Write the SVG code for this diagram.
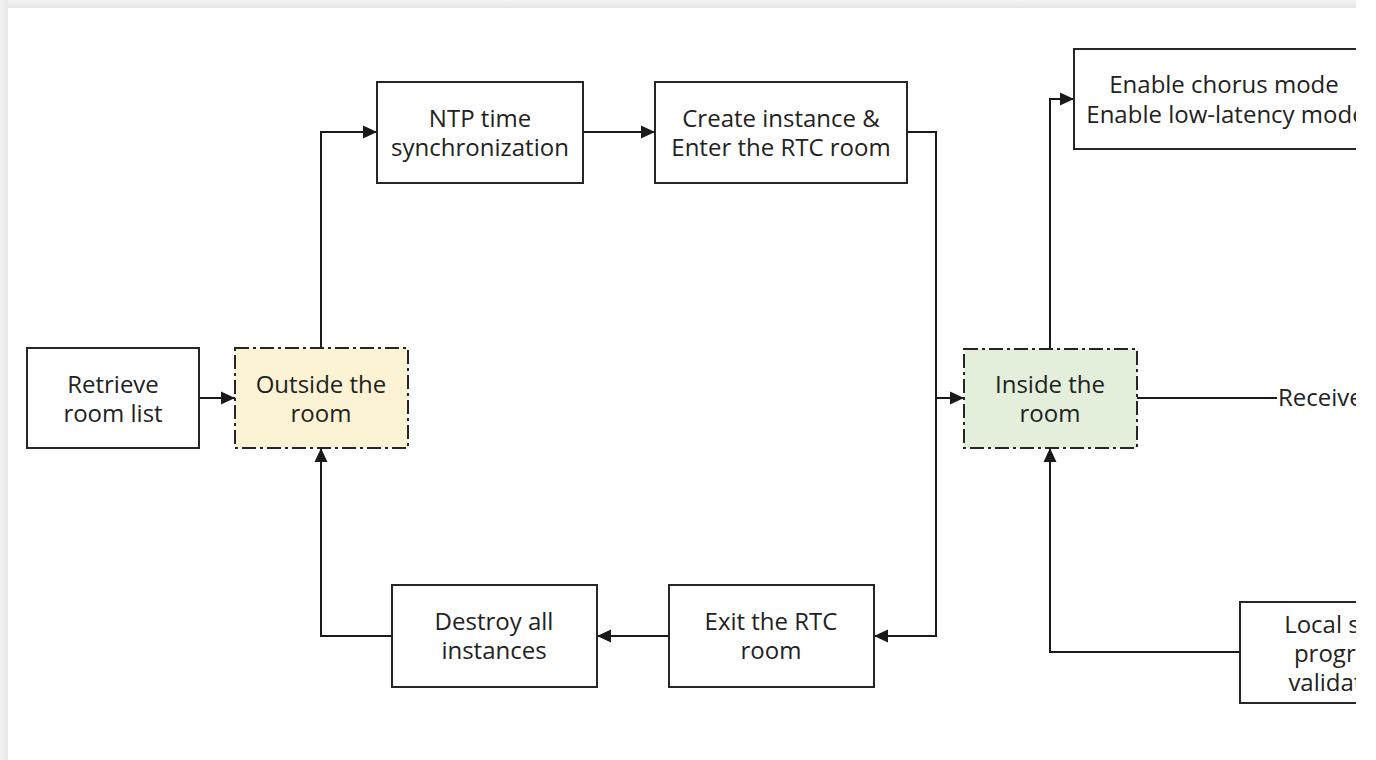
<svg xmlns="http://www.w3.org/2000/svg" width="1376" height="760" viewBox="0 0 1376 760">
<defs>
<linearGradient id="shTop" x1="0" y1="0" x2="0" y2="1"><stop offset="0" stop-color="#f4f4f4"/><stop offset="1" stop-color="#e6e6e6"/></linearGradient>
<linearGradient id="shLeft" x1="0" y1="0" x2="1" y2="0"><stop offset="0" stop-color="#f4f4f4"/><stop offset="1" stop-color="#e6e6e6"/></linearGradient>
<clipPath id="card"><rect x="8" y="8" width="1348" height="752"/></clipPath>
<marker id="arr" markerUnits="userSpaceOnUse" markerWidth="16" markerHeight="14" refX="14" refY="7" orient="auto"><path d="M0,0.5 L14,7 L0,13.5 z" fill="#1a1a1a"/></marker>
</defs>
<style>
.box{fill:#ffffff;stroke:#262626;stroke-width:2}
.state{stroke:#262626;stroke-width:2;stroke-dasharray:14 4 3 4}
.out{fill:#fcf2d4}
.in{fill:#e3eedb}
.t{font-family:"Open Sans","Noto Sans",sans-serif;font-size:24px;fill:#222;text-anchor:middle}
.tl{text-anchor:start}
.c{fill:none;stroke:#1a1a1a;stroke-width:2}
</style>
<rect width="1376" height="760" fill="#ffffff"/>
<rect x="0" y="0" width="1356" height="8" fill="url(#shTop)"/>
<rect x="0" y="0" width="8" height="760" fill="url(#shLeft)"/>
<rect x="8" y="8" width="1348" height="752" fill="#ffffff"/>
<g clip-path="url(#card)">
<g id="connectors">
<path class="c" d="M199,398 H235" marker-end="url(#arr)"/>
<path class="c" d="M321,348 V132 H377" marker-end="url(#arr)"/>
<path class="c" d="M583,132 H655" marker-end="url(#arr)"/>
<path class="c" d="M907,132 H936 V398 H964" marker-end="url(#arr)"/>
<path class="c" d="M936,398 V636 H874" marker-end="url(#arr)"/>
<path class="c" d="M669,636 H597" marker-end="url(#arr)"/>
<path class="c" d="M392,636 H321 V448" marker-end="url(#arr)"/>
<path class="c" d="M1050,349 V99 H1074" marker-end="url(#arr)"/>
<path class="c" d="M1137,398 H1277"/>
<path class="c" d="M1240,652 H1050 V448" marker-end="url(#arr)"/>
</g>
<g id="retrieve"><rect class="box" x="27" y="348" width="172" height="100"/><text class="t"><tspan x="113" y="393">Retrieve</tspan><tspan x="113" y="422">room list</tspan></text></g>
<g id="outside"><rect class="state out" x="235" y="348" width="173" height="100"/><text class="t"><tspan x="321" y="393">Outside the</tspan><tspan x="321" y="422">room</tspan></text></g>
<g id="ntp"><rect class="box" x="377" y="82" width="206" height="101"/><text class="t"><tspan x="480" y="127">NTP time</tspan><tspan x="480" y="156">synchronization</tspan></text></g>
<g id="create"><rect class="box" x="655" y="82" width="252" height="101"/><text class="t"><tspan x="781" y="127">Create instance &amp;</tspan><tspan x="781" y="156">Enter the RTC room</tspan></text></g>
<g id="inside"><rect class="state in" x="964" y="349" width="173" height="99"/><text class="t"><tspan x="1050" y="393">Inside the</tspan><tspan x="1050" y="422">room</tspan></text></g>
<g id="enable"><rect class="box" x="1074" y="49" width="300" height="100"/><text class="t"><tspan x="1224" y="93">Enable chorus mode</tspan><tspan x="1226" y="123">Enable low-latency mode</tspan></text></g>
<g id="receive"><text class="t tl" x="1278" y="406">Receive chorus signaling</text></g>
<g id="local"><rect class="box" x="1240" y="602" width="206" height="101"/><text class="t"><tspan x="1343" y="633">Local song</tspan><tspan x="1343" y="662">progress</tspan><tspan x="1343" y="691">validation</tspan></text></g>
<g id="exit"><rect class="box" x="669" y="585" width="205" height="102"/><text class="t"><tspan x="771" y="630">Exit the RTC</tspan><tspan x="771" y="659">room</tspan></text></g>
<g id="destroy"><rect class="box" x="392" y="585" width="205" height="102"/><text class="t"><tspan x="494" y="630">Destroy all</tspan><tspan x="494" y="659">instances</tspan></text></g>
</g>
</svg>
